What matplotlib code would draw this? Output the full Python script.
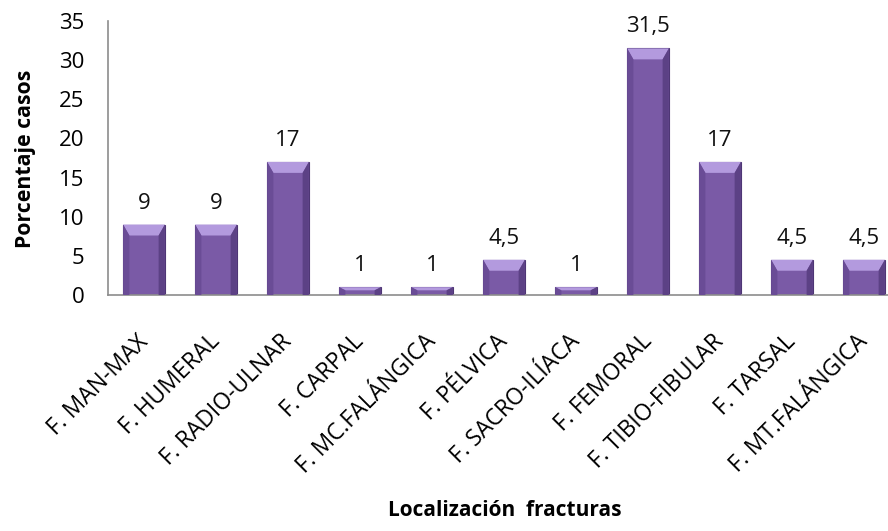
import numpy as np
import matplotlib
matplotlib.use('Agg')
import matplotlib.pyplot as plt
import matplotlib.transforms as mtransforms
from matplotlib.patches import Polygon

plt.rcParams['font.family'] = ['Open Sans', 'DejaVu Sans']

categorias = ['F. MAN-MAX', 'F. HUMERAL', 'F. RADIO-ULNAR', 'F. CARPAL', 'F. MC.FALÁNGICA',
              'F. PÉLVICA', 'F. SACRO-ILÍACA', 'F. FEMORAL', 'F. TIBIO-FIBULAR', 'F. TARSAL',
              'F. MT.FALÁNGICA']
porcentajes = [9, 9, 17, 1, 1, 4.5, 1, 31.5, 17, 4.5, 4.5]
etiquetas = ['9', '9', '17', '1', '1', '4,5', '1', '31,5', '17', '4,5', '4,5']

W, H = 888, 531
fig = plt.figure(figsize=(W / 100, H / 100), dpi=100)
# axes: left spine at x=108, y=0 at 295, y=35 at 21
ax = fig.add_axes([108 / W, 1 - 295 / H, (888 - 108) / W, (295 - 21) / H])

x = np.arange(len(categorias))
ancho = 0.58
base = '#7a5aa6'
bars = ax.bar(x, porcentajes, width=ancho, color=base, edgecolor='#4e3675',
              linewidth=0.8, zorder=2)

# bevel effect on top of each bar
for b in bars:
    x0 = b.get_x()
    w = b.get_width()
    h = b.get_height()
    bev = min(1.4, h * 0.4)
    bw = w * 0.15
    top = Polygon([[x0, h], [x0 + w, h], [x0 + w - bw, h - bev], [x0 + bw, h - bev]],
                  closed=True, facecolor='#b39ade', edgecolor='none', zorder=3)
    ax.add_patch(top)
    left = Polygon([[x0, h], [x0 + bw, h - bev], [x0 + bw, 0], [x0, 0]],
                   closed=True, facecolor='#6a4c96', edgecolor='none', zorder=3)
    right = Polygon([[x0 + w, h], [x0 + w - bw, h - bev], [x0 + w - bw, 0], [x0 + w, 0]],
                    closed=True, facecolor='#5c4185', edgecolor='none', zorder=3)
    ax.add_patch(left)
    ax.add_patch(right)

for xi, v, t in zip(x, porcentajes, etiquetas):
    ax.annotate(t, (xi, v), xytext=(0, 11.5), textcoords='offset points',
                ha='center', va='baseline', fontsize=16, color='#111111')

ax.set_ylim(0, 35)
ax.set_xlim(-0.5, -0.5 + (888 - 108) / 72)
ax.set_yticks(range(0, 36, 5))
ax.tick_params(axis='y', length=0, labelsize=16, pad=17)
ax.set_xticks(x)
ax.set_xticklabels(categorias, rotation=45, ha='right', rotation_mode='anchor',
                   fontsize=16.5)
ax.tick_params(axis='x', length=0, pad=25)
shift = mtransforms.ScaledTranslation(-8 / 100, 0, fig.dpi_scale_trans)
for lab in ax.get_xticklabels():
    lab.set_transform(lab.get_transform() + shift)

for s in ['top', 'right']:
    ax.spines[s].set_visible(False)
for s in ['left', 'bottom']:
    ax.spines[s].set_color('#8c8c8c')
    ax.spines[s].set_linewidth(1.2)

fig.text(25 / W, 1 - 159 / H, 'Porcentaje casos', rotation=90, ha='center', va='center',
         fontsize=15.3, fontweight='bold')
fig.text(505 / W, 1 - 510 / H, 'Localización  fracturas', ha='center', va='center',
         fontsize=15, fontweight='bold')

fig.savefig('out.png', dpi=100)
